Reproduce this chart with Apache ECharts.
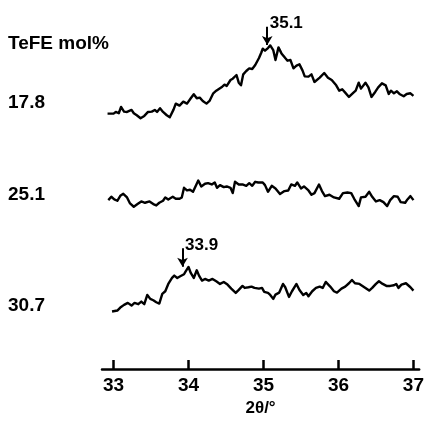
<!DOCTYPE html>
<html>
<head>
<meta charset="utf-8">
<script src="https://cdn.jsdelivr.net/npm/echarts@6/dist/echarts.min.js"></script>
<style>
  html, body { margin: 0; padding: 0; background: #fff; }
  #chart { width: 427px; height: 422px; }
</style>
</head>
<body>
<div id="chart"></div>
<script>
// sample names (TeFE mol%) and the vertical offset each trace is drawn at
var sampleNames = ['17.8', '25.1', '30.7'];
var traceOffsets = [70, 45, 10];

// 2theta (deg) and intensity (arb. units)
var theta178 = [32.92, 33.00, 33.03, 33.07, 33.10, 33.14, 33.18, 33.24, 33.27, 33.31, 33.36, 33.41, 33.46, 33.51, 33.55, 33.58, 33.62, 33.66, 33.71, 33.75, 33.80, 33.83, 33.88, 33.93, 33.98, 34.03, 34.07, 34.11, 34.15, 34.19, 34.24, 34.28, 34.33, 34.37, 34.41, 34.45, 34.48, 34.51, 34.56, 34.59, 34.64, 34.67, 34.70, 34.73, 34.77, 34.81, 34.85, 34.89, 34.94, 34.97, 34.99, 35.02, 35.06, 35.09, 35.13, 35.16, 35.20, 35.24, 35.29, 35.32, 35.36, 35.40, 35.44, 35.48, 35.52, 35.55, 35.60, 35.64, 35.68, 35.75, 35.81, 35.86, 35.91, 35.97, 36.01, 36.05, 36.09, 36.14, 36.20, 36.23, 36.27, 36.30, 36.36, 36.40, 36.44, 36.49, 36.53, 36.58, 36.63, 36.67, 36.70, 36.74, 36.78, 36.82, 36.87, 36.91, 36.96, 37.00];
var int178 = [6.8, 6.8, 7.3, 6.9, 8.8, 7.4, 7.3, 7.9, 6.9, 6.3, 5.4, 6.1, 7.3, 7.4, 7.9, 7.3, 8.4, 7.3, 6.3, 5.7, 8.0, 9.8, 9.2, 10.4, 9.8, 11.4, 12.6, 11.4, 11.6, 10.6, 9.8, 10.6, 12.9, 13.7, 14.3, 14.9, 15.5, 15.1, 16.9, 17.3, 18.4, 16.1, 15.3, 18.6, 19.6, 20.4, 20.2, 21.4, 23.5, 25.1, 26.3, 25.7, 26.5, 27.3, 25.9, 22.9, 26.7, 24.9, 23.5, 22.7, 22.9, 20.4, 21.2, 21.6, 19.8, 18.0, 17.9, 18.6, 16.3, 17.6, 19.0, 17.6, 16.9, 15.3, 13.7, 14.1, 13.1, 11.8, 13.1, 13.7, 16.1, 14.3, 16.1, 14.7, 11.8, 13.3, 14.7, 15.9, 15.3, 12.7, 13.7, 12.9, 13.5, 12.6, 12.0, 12.7, 12.9, 12.1];

var theta251 = [32.93, 32.97, 33.01, 33.05, 33.09, 33.13, 33.18, 33.22, 33.27, 33.32, 33.37, 33.42, 33.48, 33.53, 33.57, 33.61, 33.66, 33.69, 33.73, 33.79, 33.83, 33.88, 33.91, 33.94, 33.98, 34.02, 34.06, 34.13, 34.17, 34.22, 34.26, 34.31, 34.35, 34.38, 34.42, 34.47, 34.51, 34.56, 34.59, 34.62, 34.67, 34.72, 34.77, 34.81, 34.85, 34.89, 34.93, 34.99, 35.02, 35.06, 35.11, 35.16, 35.22, 35.28, 35.33, 35.37, 35.42, 35.45, 35.50, 35.54, 35.60, 35.64, 35.68, 35.74, 35.78, 35.82, 35.88, 35.94, 36.01, 36.06, 36.12, 36.17, 36.21, 36.27, 36.30, 36.36, 36.41, 36.45, 36.50, 36.55, 36.60, 36.65, 36.69, 36.74, 36.79, 36.83, 36.89, 36.92, 36.96, 37.00];
var int251 = [5.8, 6.8, 6.0, 5.6, 7.1, 7.7, 6.6, 4.8, 3.8, 4.6, 5.4, 5.0, 5.4, 4.6, 4.2, 5.0, 5.6, 6.6, 6.0, 6.8, 6.2, 6.2, 6.6, 9.5, 8.7, 8.9, 8.3, 11.7, 9.9, 10.7, 10.9, 10.5, 11.1, 9.5, 10.3, 9.7, 9.9, 9.5, 7.9, 11.3, 10.5, 10.5, 10.1, 10.9, 10.1, 11.3, 11.1, 11.1, 10.3, 8.3, 10.1, 9.3, 7.6, 8.5, 8.7, 10.5, 10.1, 11.1, 9.3, 9.9, 8.7, 7.4, 7.9, 10.5, 8.5, 7.0, 7.4, 6.6, 6.2, 7.9, 8.1, 7.9, 6.2, 4.0, 6.6, 6.8, 8.3, 6.8, 5.4, 5.8, 5.2, 4.0, 5.8, 7.0, 6.8, 5.2, 5.0, 6.0, 7.0, 5.8];

var theta307 = [32.98, 33.00, 33.05, 33.09, 33.14, 33.19, 33.24, 33.28, 33.33, 33.37, 33.41, 33.45, 33.49, 33.53, 33.57, 33.61, 33.65, 33.69, 33.73, 33.78, 33.81, 33.85, 33.89, 33.94, 33.96, 34.00, 34.03, 34.07, 34.11, 34.14, 34.18, 34.22, 34.27, 34.32, 34.37, 34.42, 34.47, 34.52, 34.57, 34.63, 34.67, 34.72, 34.75, 34.80, 34.84, 34.88, 34.94, 34.98, 35.01, 35.06, 35.09, 35.13, 35.16, 35.21, 35.26, 35.29, 35.34, 35.38, 35.44, 35.48, 35.53, 35.57, 35.60, 35.65, 35.70, 35.75, 35.79, 35.83, 35.89, 35.94, 35.98, 36.04, 36.09, 36.14, 36.18, 36.22, 36.28, 36.32, 36.36, 36.41, 36.45, 36.50, 36.54, 36.59, 36.64, 36.69, 36.74, 36.77, 36.80, 36.84, 36.90, 36.93, 36.96, 37.00];
var int307 = [7.3, 7.0, 7.6, 8.5, 9.3, 9.9, 9.1, 9.9, 9.5, 10.3, 9.5, 12.3, 11.1, 10.7, 10.1, 9.7, 12.6, 13.4, 15.6, 17.4, 18.1, 17.4, 17.9, 18.5, 19.3, 20.7, 18.9, 17.4, 19.7, 18.1, 16.6, 17.1, 16.6, 17.1, 16.4, 15.6, 16.2, 15.4, 14.2, 12.9, 13.8, 15.0, 14.4, 14.6, 14.8, 14.4, 14.2, 14.4, 13.2, 12.9, 12.3, 11.1, 12.4, 13.0, 15.6, 14.6, 11.7, 13.4, 15.6, 13.8, 12.3, 12.9, 11.9, 13.4, 14.4, 14.8, 14.4, 16.2, 14.8, 13.4, 13.0, 14.2, 14.8, 15.8, 16.8, 15.8, 15.6, 15.0, 14.4, 13.6, 14.4, 15.6, 16.4, 15.6, 15.0, 15.0, 15.2, 15.6, 14.4, 15.4, 15.8, 15.2, 14.6, 13.6];

// peak markers: where the arrow points and what it says, per trace (null = none)
var peakAt = [35.05, null, 33.92];
var peakText = ['35.1', null, '33.9'];

var tickValues = [33, 34, 35, 36, 37];

var thetas = [theta178, theta251, theta307];
var intensities = [int178, int251, int307];

var FONT = '"Liberation Sans", Arial, sans-serif';

var series = sampleNames.map(function (name, i) {
  var off = traceOffsets[i];
  var pts = thetas[i].map(function (t, k) { return [t, intensities[i][k] + off]; });
  var s = {
    name: name,
    type: 'line',
    data: pts,
    showSymbol: false,
    symbol: 'none',
    smooth: false,
    clip: false,
    animation: false,
    lineStyle: { color: '#000', width: 2.4, join: 'round' }
  };
  if (peakAt[i] != null) {
    var top = Math.max.apply(null, intensities[i]) + off;
    s.markLine = {
      silent: true,
      animation: false,
      symbol: ['none', 'arrow'],
      symbolSize: [8, 9],
      label: { show: false },
      lineStyle: { color: '#000', width: 2, type: 'solid' },
      data: [[{ coord: [peakAt[i], top + 5.6] }, { coord: [peakAt[i], top + 0.1] }]]
    };
    s.markPoint = {
      silent: true,
      animation: false,
      symbol: 'circle',
      symbolSize: 1,
      itemStyle: { color: 'rgba(0,0,0,0)' },
      label: {
        show: true,
        position: 'right',
        distance: 2,
        offset: [0, -3],
        formatter: peakText[i],
        color: '#000',
        fontFamily: FONT,
        fontSize: 17,
        fontWeight: 'bold'
      },
      data: [{ coord: [peakAt[i], top + 5.6] }]
    };
  }
  return s;
});

var chart = echarts.init(document.getElementById('chart'), null, { renderer: 'canvas' });

var labelYs = [103, 195, 306];
var graphics = [{
  type: 'text',
  left: 8,
  top: 34,
  style: { text: 'TeFE mol%', fill: '#000', font: 'bold 19px ' + FONT }
}];
sampleNames.forEach(function (n, i) {
  graphics.push({
    type: 'text',
    left: 8,
    top: labelYs[i] - 10,
    style: { text: n, fill: '#000', font: 'bold 19px ' + FONT }
  });
});

chart.setOption({
  backgroundColor: '#fff',
  animation: false,
  grid: { left: 102, right: 6, top: 9.8, bottom: 45 },
  xAxis: {
    type: 'value',
    min: 32.846,
    max: 37.076,
    name: '2θ/°',
    nameLocation: 'middle',
    nameGap: 24,
    nameTextStyle: { color: '#000', fontFamily: FONT, fontSize: 17, fontWeight: 'bold' },
    splitLine: { show: false },
    axisLine: { show: true, lineStyle: { color: '#000', width: 2.5 } },
    axisTick: {
      show: true,
      inside: true,
      length: 9,
      lineStyle: { color: '#000', width: 2.5 },
      customValues: tickValues
    },
    axisLabel: {
      show: true,
      margin: 7,
      color: '#000',
      fontFamily: FONT,
      fontSize: 19,
      fontWeight: 'bold',
      customValues: tickValues
    }
  },
  yAxis: {
    type: 'value',
    min: 0,
    max: 108,
    show: false,
    splitLine: { show: false }
  },
  graphic: graphics,
  series: series
});
</script>
</body>
</html>
